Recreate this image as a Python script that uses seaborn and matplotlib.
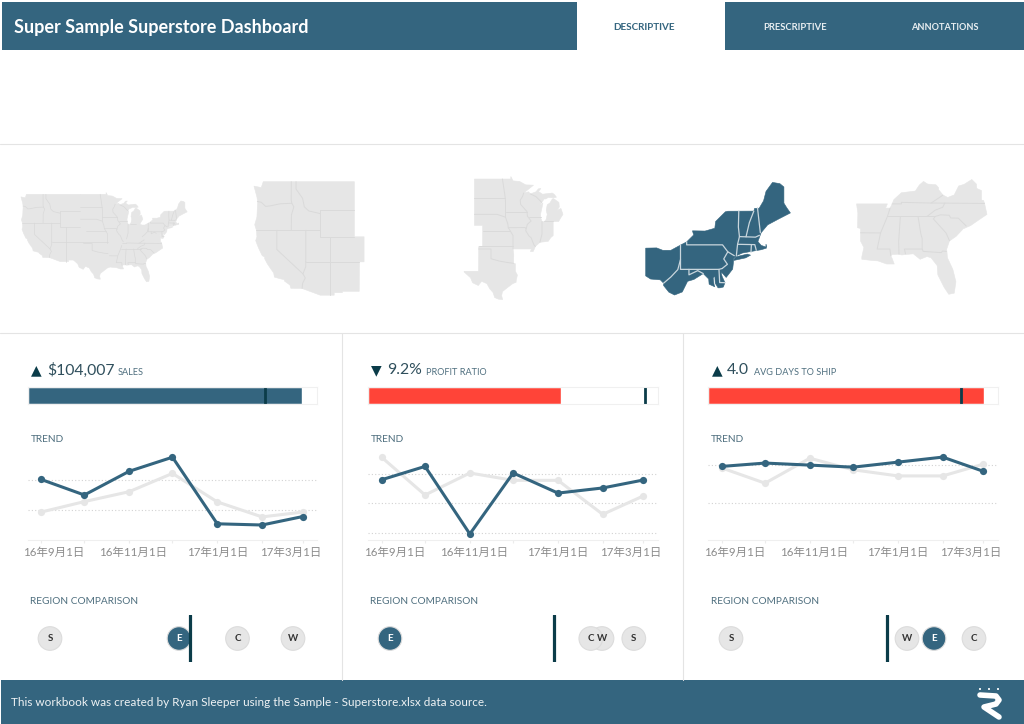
import numpy as np
import pandas as pd
import matplotlib
matplotlib.use('Agg')
import matplotlib.pyplot as plt
from matplotlib.patches import Rectangle
from matplotlib.transforms import ScaledTranslation
import seaborn as sns

W, H = 1024, 724
TEAL = '#34657f'
RED = '#ff4438'
DARK = '#0b3c49'
LIGHT = '#e6e6e6'
LABEL = '#4f6f7f'

# Trend data
months = ['2016-09-01', '2016-10-01', '2016-11-01', '2016-12-01', '2017-01-01', '2017-02-01', '2017-03-01']
tick_months = ['2016-09-01', '2016-11-01', '2017-01-01', '2017-03-01']
tick_labels = ['16年9月1日', '16年11月1日', '17年1月1日', '17年3月1日']

sales_now = [20.2, 15.0, 22.9, 27.6, 5.4, 5.0, 7.8]
sales_prev = [9.3, 12.8, 16.1, 22.2, 12.7, 7.7, 9.3]
profit_now = [16.1, 25.2, -20.9, 20.7, 7.0, 10.5, 15.9]
profit_prev = [31.4, 5.7, 20.7, 15.7, 15.7, -7.5, 5.0]
days_now = [3.95, 4.13, 4.02, 3.91, 4.18, 4.45, 3.69]
days_prev = [3.87, 3.05, 4.39, 3.77, 3.44, 3.44, 4.07]

# Bullet bars
kpi_values = [104.007, 9.2, 4.0]
kpi_refs = [89.8, 13.2, 3.68]
kpi_max = [109.5, 13.8, 4.21]
kpi_text = ['$104,007', '9.2%', '4.0']
kpi_names = ['SALES', 'PROFIT RATIO', 'AVG DAYS TO SHIP']
kpi_arrows = ['▲', '▼', '▲']
kpi_colors = [TEAL, RED, RED]

# Region comparison
regions_sales = ['S', 'E', 'C', 'W']
values_sales = [61.0, 104.0, 123.5, 142.0]
regions_profit = ['E', 'W', 'C', 'S']
values_profit = [9.2, 19.8, 19.24, 21.39]
regions_days = ['S', 'W', 'E', 'C']
values_days = [1.97, 3.73, 4.0, 4.4]

# Map outlines, lon/lat
west_outline = [(-124.7,48.4),(-123.2,48.2),(-122.8,49.0),(-116.05,49),(-104.05,49),(-104.05,45.0),(-104.05,41.0),
    (-102.05,41.0),(-102.05,37.0),(-103.0,37.0),(-103.0,36.5),(-103.05,32.0),(-106.6,32.0),(-106.5,31.78),(-108.2,31.78),
    (-108.2,31.33),(-111.07,31.33),(-114.8,32.5),(-117.12,32.53),(-117.3,33.1),(-118.4,33.75),(-118.5,34.03),(-119.2,34.15),
    (-120.5,34.45),(-120.65,35.15),(-121.9,36.6),(-122.5,37.5),(-122.5,37.8),(-123.0,38.0),(-123.8,39.3),(-124.35,40.4),
    (-124.1,41.0),(-124.2,42.0),(-124.55,42.85),(-124.1,44.0),(-123.95,46.2),(-124.1,46.9)]
central_outline = [(-104.05,49),(-97.2,49),(-95.15,49),(-95.15,49.4),(-94.6,48.7),(-93.0,48.6),(-91.5,48.05),(-89.6,48.0),
    (-92.0,46.7),(-90.8,46.9),(-90.4,46.55),(-89.0,46.9),(-88.4,47.4),(-87.8,47.45),(-88.4,46.95),(-87.4,46.5),(-85.0,46.7),
    (-84.5,46.45),(-84.0,46.0),(-84.7,45.9),(-86.0,45.95),(-86.6,45.7),(-87.0,45.7),(-87.6,45.1),(-88.0,44.55),(-87.3,45.0),
    (-87.5,44.3),(-87.9,43.0),(-87.8,42.3),(-87.5,41.7),(-87.0,41.65),(-86.5,42.1),(-86.25,43.0),(-86.5,43.7),(-86.25,44.7),
    (-85.6,45.0),(-85.0,45.7),(-84.7,45.75),(-83.4,45.1),(-83.3,44.3),(-83.9,43.7),(-82.9,44.05),(-82.4,43.0),(-83.1,42.2),
    (-83.45,41.72),(-84.8,41.7),(-84.8,39.1),(-85.4,38.7),(-86.0,38.0),(-87.0,37.9),(-88.05,37.8),(-89.15,37.0),(-89.4,36.5),
    (-89.7,36.0),(-90.37,36.0),(-90.1,36.5),(-94.62,36.5),(-94.43,35.4),(-94.48,33.64),(-94.04,33.55),(-94.04,33.0),(-94.04,32.0),
    (-93.55,31.2),(-93.85,30.0),(-93.85,29.7),(-94.7,29.4),(-95.9,28.6),(-97.2,27.7),(-97.4,26.8),(-97.15,25.95),(-98.2,26.05),
    (-99.1,26.4),(-99.5,27.5),(-100.3,28.3),(-101.0,29.4),(-102.3,29.9),(-103.1,29.0),(-104.5,29.6),(-105.0,30.65),(-106.5,31.78),
    (-106.6,32.0),(-103.05,32.0),(-103.0,36.5),(-103.0,37.0),(-102.05,37.0),(-102.05,41.0),(-104.05,41.0)]
east_outline = [(-84.8,41.7),(-83.45,41.72),(-82.7,41.5),(-81.7,41.5),(-80.52,41.98),(-79.76,42.27),(-78.9,42.9),(-79.05,43.27),
    (-77.5,43.25),(-76.3,43.5),(-76.2,44.1),(-75.0,44.95),(-74.7,45.0),(-71.5,45.01),(-71.4,45.25),(-70.85,45.25),(-70.3,45.9),
    (-70.0,46.7),(-69.2,47.45),(-68.3,47.35),(-67.8,47.07),(-67.8,45.7),(-67.45,45.3),(-67.0,44.85),(-68.5,44.3),(-69.8,43.8),
    (-70.6,43.1),(-70.8,42.7),(-71.0,42.3),(-70.6,41.95),(-70.0,41.8),(-70.0,42.05),(-69.95,41.7),(-70.6,41.55),(-71.4,41.45),
    (-72.9,41.25),(-73.65,41.0),(-74.0,40.7),(-74.0,40.45),(-74.1,39.75),(-74.9,38.95),(-75.3,39.3),(-75.55,39.5),(-75.4,39.05),
    (-75.05,38.45),(-75.25,38.03),(-75.65,37.95),(-75.9,37.95),(-76.25,38.4),(-76.3,39.1),(-76.5,38.9),(-76.4,38.3),(-76.3,38.05),
    (-77.0,38.3),(-77.05,38.8),(-77.72,39.32),(-78.87,38.76),(-79.65,38.58),(-80.3,37.55),(-81.25,37.25),(-81.95,37.53),
    (-82.6,38.17),(-82.6,38.4),(-83.0,38.72),(-84.2,38.8),(-84.8,39.1)]
long_island = [(-74.0,40.6),(-73.7,40.9),(-72.3,41.15),(-71.9,41.05),(-72.5,40.8),(-73.9,40.57)]
south_outline = [(-94.62,36.5),(-90.1,36.5),(-90.37,36.0),(-89.7,36.0),(-89.4,36.5),(-89.15,37.0),(-88.05,37.8),(-87.0,37.9),
    (-86.0,38.0),(-85.4,38.7),(-84.8,39.1),(-84.2,38.8),(-83.0,38.72),(-82.6,38.4),(-82.6,38.17),(-81.95,37.53),(-81.25,37.25),
    (-80.3,37.55),(-79.65,38.58),(-78.87,38.76),(-77.72,39.32),(-77.05,38.8),(-77.0,38.3),(-76.3,38.05),(-76.3,37.5),(-76.3,36.95),
    (-76.0,36.9),(-75.85,36.55),(-75.5,35.25),(-76.5,34.7),(-77.9,33.9),(-79.0,33.5),(-80.0,32.6),(-81.0,32.0),(-81.4,31.0),
    (-81.3,29.9),(-80.5,28.4),(-80.05,26.8),(-80.3,25.3),(-81.1,25.15),(-81.8,26.1),(-82.7,27.7),(-82.8,28.9),(-83.7,29.9),
    (-84.3,30.05),(-85.3,29.7),(-86.3,30.4),(-87.5,30.3),(-88.0,30.25),(-88.4,30.35),(-89.4,30.3),(-89.6,30.15),(-89.4,29.8),
    (-89.1,29.1),(-90.2,29.1),(-91.5,29.5),(-92.3,29.55),(-93.85,29.7),(-93.85,30.0),(-93.55,31.2),(-94.04,32.0),(-94.04,33.0),
    (-94.04,33.55),(-94.48,33.64),(-94.43,35.4)]

west_borders = [
    [(-124.0,46.25),(-123.2,46.15),(-122.3,45.55),(-121.2,45.65),(-119.3,45.93),(-116.92,46.0)],
    [(-117.03,49),(-117.04,46.4),(-116.92,46.0),(-116.5,45.5),(-117.0,44.3),(-117.03,42.0)],
    [(-124.2,42),(-111.05,42)],
    [(-120,42),(-120,39),(-114.63,35.0),(-114.05,36.2),(-114.05,37)],
    [(-114.04,42),(-114.05,37)],
    [(-114.63,35.0),(-114.15,34.3),(-114.7,33.4),(-114.8,32.5)],
    [(-114.05,37),(-103,37)],
    [(-111.05,45),(-111.05,41),(-109.05,41),(-109.05,31.33)],
    [(-109.05,41),(-104.05,41)],
    [(-116.05,49),(-116.05,48),(-114.7,46.7),(-114.35,45.5),(-113.45,44.9),(-111.05,44.5)],
    [(-111.05,45),(-104.05,45)]]
central_borders = [
    [(-104.05,45.94),(-96.56,45.94)],
    [(-104.05,43),(-98.5,43),(-96.45,42.5)],
    [(-102.05,40),(-95.3,40)],
    [(-103,37),(-94.62,37)],
    [(-103,36.5),(-100,36.5),(-100,34.56),(-98,34.1),(-96,33.8),(-94.48,33.64)],
    [(-97.2,49),(-96.6,46.3),(-96.45,45.3),(-96.45,42.5),(-95.9,41.3),(-95.77,40.58),(-95.3,40),(-94.62,39.1),(-94.62,36.5)],
    [(-96.45,43.5),(-91.2,43.5)],
    [(-95.77,40.58),(-91.7,40.6),(-91.4,40.4)],
    [(-92.0,46.7),(-92.3,46.1),(-92.85,45.5),(-92.75,44.75),(-91.2,43.5),(-91.1,42.7),(-90.2,41.8),(-91.1,41.2),(-91.4,40.4),
     (-91.5,40),(-90.7,39.0),(-90.2,38.7),(-89.5,37.3),(-89.15,37)],
    [(-90.65,42.5),(-87.8,42.5)],
    [(-90.4,46.55),(-89.0,46.1),(-87.6,45.1)],
    [(-87.53,41.7),(-87.53,39.35),(-88.05,37.8)],
    [(-87.0,41.76),(-84.8,41.76)]]
east_borders = [
    [(-79.76,42.27),(-79.76,42),(-75.35,42),(-74.7,41.36)],
    [(-80.52,41.98),(-80.52,40.64),(-80.85,39.7),(-81.7,39.0),(-82.6,38.4)],
    [(-80.52,40.64),(-80.52,39.72),(-75.79,39.72),(-75.4,39.8)],
    [(-75.4,39.8),(-74.75,40.2),(-75.2,40.7),(-74.7,41.36),(-73.9,41.0)],
    [(-79.48,39.72),(-79.48,39.2),(-78.4,39.6),(-77.72,39.32)],
    [(-73.35,45.01),(-73.4,43.6),(-73.27,42.75),(-73.5,42.05),(-73.65,41.0)],
    [(-71.5,45.01),(-72.05,44.0),(-72.46,42.73)],
    [(-73.27,42.75),(-71.3,42.7),(-70.8,42.87)],
    [(-73.5,42.05),(-71.38,42.02),(-71.2,41.5)],
    [(-71.8,42.02),(-71.85,41.32)],
    [(-71.05,45.3),(-70.7,43.1)],
    [(-75.79,39.72),(-75.7,38.46),(-75.05,38.45)]]
south_borders = [
    [(-89.7,36),(-90.1,35.0),(-91.1,33.0),(-91.6,31.0),(-89.73,31.0),(-89.6,30.15)],
    [(-94.04,33.02),(-91.15,33.0)],
    [(-88.2,35.0),(-88.45,31.9),(-88.4,30.35)],
    [(-90.1,35),(-83.1,35)],
    [(-85.6,35.0),(-85.2,32.9),(-85.0,32.3),(-85.0,31.0)],
    [(-87.45,30.4),(-87.6,31),(-85.0,31),(-84.85,30.7),(-82.2,30.55),(-82.0,30.75),(-81.45,30.7)],
    [(-89.4,36.5),(-88.05,36.5),(-88.05,36.68),(-83.68,36.6),(-81.68,36.59),(-75.85,36.55)],
    [(-81.68,36.59),(-82.0,36.1),(-83.1,35.75),(-84.3,35)],
    [(-83.1,35),(-82.3,35.2),(-81.05,35.15),(-80.8,34.82),(-79.7,34.8),(-78.55,33.86)],
    [(-83.1,35),(-83.35,34.7),(-81.5,33.0),(-81.0,32.05)],
    [(-83.68,36.6),(-81.95,37.53)]]

sns.set_theme(style='white')
plt.rcParams['font.family'] = ['Lato', 'Noto Sans CJK SC', 'DejaVu Sans']

fig = plt.figure(figsize=(W / 100, H / 100), dpi=100, facecolor='white')


def px_axes(x0, y0, x1, y1, z=2):
    ax = fig.add_axes([x0 / W, 1 - y1 / H, (x1 - x0) / W, (y1 - y0) / H], zorder=z)
    ax.patch.set_alpha(0)
    return ax


def merc(lat):
    return np.degrees(np.log(np.tan(np.radians(45 + np.asarray(lat, dtype=float) / 2))))


def draw_map(anchor_x, anchor_y, lon0, lat0, scale, polys, borders, fill, line, lw):
    # anchor_x,anchor_y is the pixel where lon0,lat0 lands
    x0, y0 = anchor_x - 10, anchor_y - 10
    x1, y1 = x0 + 200, y0 + 150
    ax = px_axes(x0, y0, x1, y1)
    ax.set_xlim(lon0 - 10 / scale, lon0 + 190 / scale)
    top = merc(lat0) + 10 / scale
    ax.set_ylim(top - 150 / scale, top)
    ax.axis('off')
    for p in polys:
        xs, ys = zip(*p)
        ax.fill(xs, merc(ys), color=fill, lw=0.4, ec=fill)
    for b in borders:
        xs, ys = zip(*b)
        ax.plot(xs, merc(ys), color=line, lw=lw, solid_joinstyle='round')
    return ax


# page furniture
bg = fig.add_axes([0, 0, 1, 1], zorder=0)
bg.set_xlim(0, W)
bg.set_ylim(H, 0)
bg.axis('off')
bg.add_patch(Rectangle((2, 2), 575, 48, color=TEAL, lw=0))
bg.add_patch(Rectangle((725, 2), 299, 48, color=TEAL, lw=0))
bg.add_patch(Rectangle((1, 680), 1023, 44, color=TEAL, lw=0))
bg.plot([0, W], [144, 144], color='#e4e4e4', lw=0.8)
bg.plot([0, W], [333, 333], color='#e4e4e4', lw=0.8)
for x in [342, 682.5]:
    bg.plot([x, x], [333, 680], color='#e4e4e4', lw=0.8)

bg.text(14, 27, 'Super Sample Superstore Dashboard', color='white', fontsize=12.95, fontweight='bold', va='center')
bg.text(644.5, 27, 'DESCRIPTIVE', color=TEAL, fontsize=7.1, fontweight='bold', ha='center', va='center')
bg.text(795.5, 27, 'PRESCRIPTIVE', color='#e8eef1', fontsize=6.8, fontweight='bold', ha='center', va='center')
bg.text(945, 27, 'ANNOTATIONS', color='#e8eef1', fontsize=6.6, fontweight='bold', ha='center', va='center')
bg.text(11, 703, 'This workbook was created by Ryan Sleeper using the Sample - Superstore.xlsx data source.',
        color='#eef2f4', fontsize=8.5, va='center')

# logo
bg.plot([980, 989, 998], [688.5, 688.5, 688.5], ls='none', marker='s', ms=2, mew=0, color='#dfe7eb')
bg.plot([980, 996, 999, 996, 984, 999], [695, 696, 700, 704, 707, 717], color='white', lw=4,
        solid_joinstyle='round', solid_capstyle='round')

# maps
all_polys = [west_outline, central_outline, east_outline, south_outline, long_island]
all_borders = west_borders + central_borders + east_borders + south_borders
draw_map(21, 194.3, -124.7, 49, 2.88, all_polys, all_borders, LIGHT, '#d9d9d9', 0.5)
draw_map(254, 181.7, -124.7, 49, 4.86, [west_outline], west_borders, LIGHT, '#dadada', 0.7)
draw_map(464, 179, -106.6, 49, 4.09, [central_outline], central_borders, LIGHT, '#dadada', 0.7)
draw_map(645.7, 182.3, -84.8, 47.46, 8.13, [east_outline, long_island], east_borders, TEAL, '#c9d6dd', 0.9)
draw_map(856.7, 181, -94.6, 39.15, 6.82, [south_outline], south_borders, LIGHT, '#dadada', 0.7)

# the three KPI columns
dates = pd.to_datetime(months)
left_px = [27.5, 367.5, 708]
right_px = [317, 658, 998]
first_px = [41, 381.7, 721.7]
now_series = [sales_now, profit_now, days_now]
prev_series = [sales_prev, profit_prev, days_prev]
grid_vals = [[10, 20], [-20, 0, 20], [2, 4]]
trend_ylim = [(0, 31.67), (-25, 39.8), (0, 5.1)]
region_names = [regions_sales, regions_profit, regions_days]
region_vals = [values_sales, values_profit, values_days]
region_lims = [(53.67, 150.0), (8.1, 22.6), (1.74, 4.64)]
arrow_px = [36.5, 376.5, 717]
value_px = [47, 387, 727]
name_px = [118, 426, 753.5]
title_px = [30.5, 370.5, 711]
day_px = 261.5 / 181

for i in range(3):
    x0 = left_px[i]
    x1 = right_px[i]

    # headline
    bg.text(arrow_px[i], 370.5, kpi_arrows[i], color=DARK, fontsize=10, ha='center', va='center',
            family=['DejaVu Sans'])
    bg.text(value_px[i], 370.5, kpi_text[i], color='#2f4f5c', fontsize=11.3, va='center')
    bg.text(name_px[i], 372.5, kpi_names[i], color=LABEL, fontsize=6.6, va='center')
    bg.text(title_px[i], 439, 'TREND', color=LABEL, fontsize=7.3, va='center')
    bg.text(title_px[i], 601.5, 'REGION COMPARISON', color=LABEL, fontsize=7.3, va='center')

    # bullet bar
    ax = px_axes(x0, 386.7, x1, 404.5)
    sns.barplot(x=[kpi_values[i]], y=[kpi_names[i]], orient='h', color=kpi_colors[i], width=1, saturation=1, ax=ax)
    ax.set_xlim(0, kpi_max[i])
    ax.set_ylim(0.5, -0.5)
    ax.axvline(kpi_refs[i], color=DARK, lw=2)
    ax.set(xlabel='', ylabel='', xticks=[], yticks=[])
    for s in ax.spines.values():
        s.set_color('#f0f0f0')
        s.set_linewidth(0.8)

    # trend lines
    ax = px_axes(x0, 445, x1, 540)
    df = pd.DataFrame({'month': dates, 'now': now_series[i], 'prev': prev_series[i]})
    for g in grid_vals[i]:
        ax.axhline(g, color='#d2d2d2', lw=0.8, ls=(0, (1, 2)), zorder=1)
    sns.lineplot(data=df, x='month', y='prev', color=LIGHT, lw=2.2, marker='o', markersize=5.2,
                 markeredgewidth=0, errorbar=None, ax=ax, zorder=2)
    sns.lineplot(data=df, x='month', y='now', color=TEAL, lw=2.2, marker='o', markersize=5.2,
                 markeredgewidth=0, errorbar=None, ax=ax, zorder=3)
    ax.set_xlim(dates[0] - pd.Timedelta(days=(first_px[i] - x0) / day_px),
                dates[0] + pd.Timedelta(days=(x1 - first_px[i]) / day_px))
    ax.set_ylim(*trend_ylim[i])
    ax.set(xlabel='', ylabel='', yticks=[])
    for name in ['top', 'left', 'right']:
        ax.spines[name].set_visible(False)
    ax.spines['bottom'].set_color('#efefef')
    ax.spines['bottom'].set_linewidth(0.8)
    ax.set_xticks(dates, minor=True)
    ax.tick_params(axis='x', which='minor', length=2, color='#ececec', width=0.8, bottom=True)
    ax.set_xticks(pd.to_datetime(tick_months))
    ax.set_xticklabels(tick_labels, fontsize=8.3, color='#8c8c8c')
    ax.tick_params(axis='x', which='major', length=2, color='#ececec', width=0.8, pad=3, bottom=True)
    # outer labels get pushed inside the pane, the way the original does it
    nudges = [13, 4, 0, -12]
    for lab, dx in zip(ax.get_xticklabels(), nudges):
        lab.set_transform(lab.get_transform() + ScaledTranslation(dx / 100, 0, fig.dpi_scale_trans))

    # region dots
    ax = px_axes(round(x0), 615, x1, 662)
    rf = pd.DataFrame({'region': region_names[i], 'value': region_vals[i], 'row': 0})
    palette = {r: (TEAL if r == 'E' else LIGHT) for r in region_names[i]}
    sns.scatterplot(data=rf, x='value', y='row', hue='region', palette=palette, s=290, legend=False,
                    edgecolor='#dcdcdc', linewidth=0.8, ax=ax, zorder=2)
    ax.axvline(np.mean(region_vals[i]), color=DARK, lw=2.3, zorder=3)
    for r, v in zip(region_names[i], region_vals[i]):
        ax.text(v, -0.01, r, color='white' if r == 'E' else '#333333', fontsize=7, fontweight='bold',
                ha='center', va='center', zorder=4)
    ax.set_xlim(*region_lims[i])
    ax.set_ylim(-1, 1)
    ax.axis('off')

fig.savefig('out.png', dpi=100)
